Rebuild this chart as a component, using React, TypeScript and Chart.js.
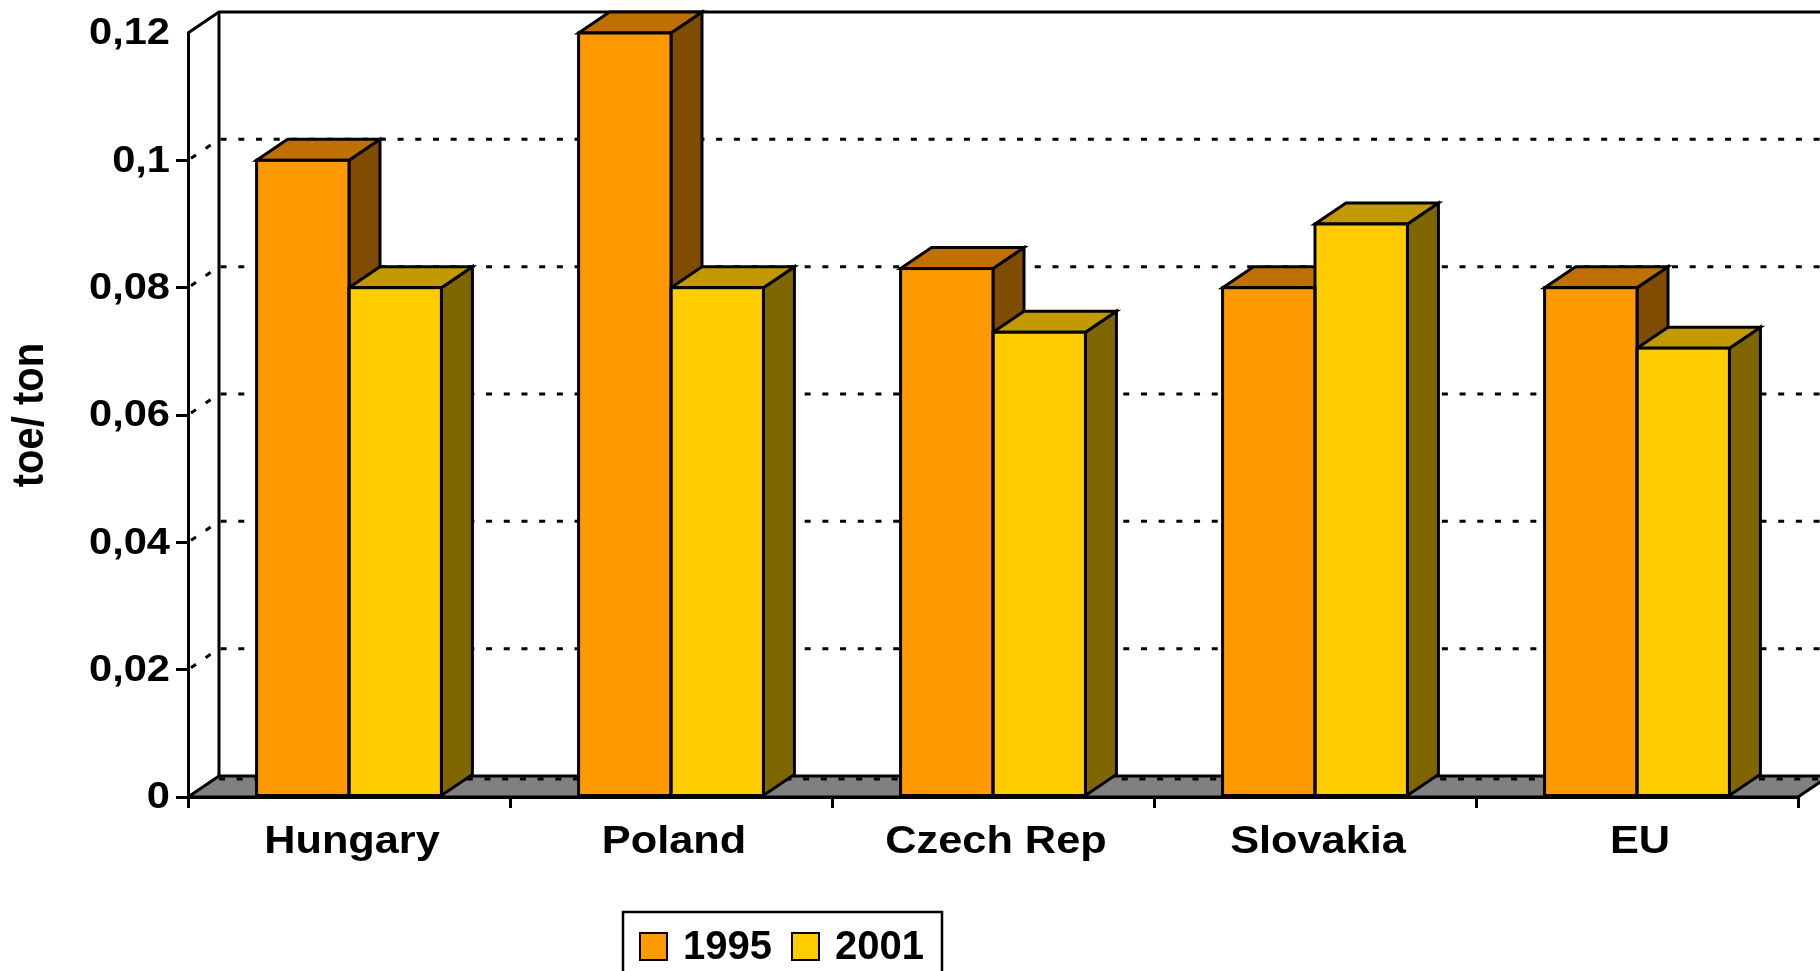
import React, { useEffect, useRef } from 'react';
import { Chart, registerables } from 'chart.js';
Chart.register(...registerables);

const categories = ['Hungary', 'Poland', 'Czech Rep', 'Slovakia', 'EU'];
const seriesNames = ['1995', '2001'];
const values1995 = [0.1, 0.12, 0.083, 0.08, 0.08];
const values2001 = [0.08, 0.08, 0.073, 0.09, 0.0705];
const yTickLabels = ['0', '0,02', '0,04', '0,06', '0,08', '0,1', '0,12'];
const yTitle = 'toe/ ton';

const frontColors = ['#FF9900', '#FFCC00'];
const topColors = ['#C07000', '#C29A00'];
const sideColors = ['#804C00', '#806600'];
const DX = 31;
const DY = 21;
const FONT = '"Liberation Sans", Arial, sans-serif';
const LW = 3;
const DASH = [6, 11.7];
const STRETCH = 1.11;

function stretchedText(ctx: any, text: string, x: number, y: number, align: string) {
  ctx.save();
  ctx.translate(x, y);
  ctx.scale(STRETCH, 1);
  ctx.textAlign = align;
  ctx.fillText(text, 0, 0);
  ctx.restore();
}

const threeD = {
  id: 'threeD',
  beforeDatasetsDraw(chart: any) {
    const { ctx, chartArea: ca, scales } = chart;
    const y = scales.y;
    const W = chart.width;
    ctx.save();
    ctx.strokeStyle = '#000';
    ctx.lineWidth = LW;
    ctx.setLineDash(DASH);
    y.ticks.forEach((t: any) => {
      if (t.value <= 0 || t.value >= 0.12 - 1e-9) return;
      const py = y.getPixelForValue(t.value);
      ctx.beginPath();
      ctx.moveTo(ca.left + 3, py - 2);
      ctx.lineTo(ca.left + DX, py - DY);
      ctx.lineTo(W + 5, py - DY);
      ctx.stroke();
    });
    ctx.setLineDash([]);
    ctx.beginPath();
    ctx.moveTo(ca.left, ca.top);
    ctx.lineTo(ca.left + DX, ca.top - DY);
    ctx.lineTo(W + 5, ca.top - DY);
    ctx.moveTo(ca.left + DX, ca.top - DY);
    ctx.lineTo(ca.left + DX, ca.bottom - DY);
    ctx.stroke();
    ctx.fillStyle = '#808080';
    ctx.beginPath();
    ctx.moveTo(ca.left, ca.bottom);
    ctx.lineTo(ca.right, ca.bottom);
    ctx.lineTo(ca.right + DX, ca.bottom - DY);
    ctx.lineTo(ca.left + DX, ca.bottom - DY);
    ctx.closePath();
    ctx.fill();
    ctx.stroke();
    ctx.setLineDash(DASH);
    ctx.beginPath();
    ctx.moveTo(ca.left + DX, ca.bottom - DY + 3);
    ctx.lineTo(ca.right + DX, ca.bottom - DY + 3);
    ctx.stroke();
    ctx.setLineDash([]);
    const n = chart.data.labels.length;
    for (let i = 0; i < n; i++) {
      chart.data.datasets.forEach((ds: any, d: number) => {
        const el = chart.getDatasetMeta(d).data[i];
        if (!el) return;
        const { x, y: top, base, width } = el.getProps(['x', 'y', 'base', 'width'], true);
        const L = x - width / 2;
        const R = x + width / 2;
        ctx.fillStyle = sideColors[d];
        ctx.beginPath();
        ctx.moveTo(R, top);
        ctx.lineTo(R + DX, top - DY);
        ctx.lineTo(R + DX, base - DY);
        ctx.lineTo(R, base);
        ctx.closePath();
        ctx.fill();
        ctx.stroke();
        ctx.fillStyle = topColors[d];
        ctx.beginPath();
        ctx.moveTo(L, top);
        ctx.lineTo(L + DX, top - DY);
        ctx.lineTo(R + DX, top - DY);
        ctx.lineTo(R, top);
        ctx.closePath();
        ctx.fill();
        ctx.stroke();
      });
    }
    ctx.restore();
  },
  afterDatasetsDraw(chart: any) {
    const { ctx } = chart;
    ctx.save();
    ctx.strokeStyle = '#000';
    ctx.lineWidth = LW;
    const n = chart.data.labels.length;
    for (let i = 0; i < n; i++) {
      chart.data.datasets.forEach((ds: any, d: number) => {
        const el = chart.getDatasetMeta(d).data[i];
        if (!el) return;
        const { x, y: top, base, width } = el.getProps(['x', 'y', 'base', 'width'], true);
        ctx.strokeRect(x - width / 2, top, width, base - top);
      });
    }
    ctx.restore();
  },
  afterDraw(chart: any) {
    const { ctx, scales, chartArea: ca } = chart;
    ctx.save();
    ctx.fillStyle = '#000';
    ctx.textBaseline = 'middle';
    // y title (rotated, thickened like the reference)
    ctx.save();
    ctx.font = `bold 40px ${FONT}`;
    ctx.translate(31, (ca.top + ca.bottom) / 2);
    ctx.rotate(-Math.PI / 2);
    ctx.scale(1, STRETCH);
    ctx.textAlign = 'center';
    ctx.fillText(scales.y.options.title.text, 0, 0);
    ctx.restore();
    // y tick labels
    ctx.font = `bold 37.5px ${FONT}`;
    scales.y.ticks.forEach((t: any, i: number) => {
      const py = scales.y.getPixelForTick(i);
      stretchedText(ctx, String(t.label), 170, py + 1, 'right');
    });
    // x category labels
    ctx.font = `bold 39px ${FONT}`;
    scales.x.ticks.forEach((t: any, i: number) => {
      const px = scales.x.getPixelForTick(i);
      stretchedText(ctx, String(t.label), px + 3, 842, 'center');
    });
    // legend
    const bx = 623, by = 912, bw = 319, bh = 70;
    ctx.fillStyle = '#fff';
    ctx.fillRect(bx, by, bw, bh);
    ctx.strokeStyle = '#000';
    ctx.lineWidth = 2.5;
    ctx.strokeRect(bx, by, bw, bh);
    ctx.font = `bold 40px ${FONT}`;
    ctx.textAlign = 'left';
    let cx = 640;
    const cy = 946.5;
    chart.data.datasets.forEach((ds: any, d: number) => {
      ctx.fillStyle = frontColors[d];
      ctx.fillRect(cx, cy - 13.5, 27, 27);
      ctx.lineWidth = 2;
      ctx.strokeRect(cx, cy - 13.5, 27, 27);
      ctx.fillStyle = '#000';
      ctx.fillText(ds.label, cx + 43, cy + 1);
      cx += 43 + ctx.measureText(ds.label).width + 20;
    });
    ctx.restore();
  },
};

export default function App() {
  const ref = useRef<HTMLCanvasElement>(null);
  useEffect(() => {
    const chart = new Chart(ref.current as HTMLCanvasElement, {
      type: 'bar',
      data: {
        labels: categories,
        datasets: [
          { label: seriesNames[0], data: values1995, backgroundColor: frontColors[0], borderWidth: 0, categoryPercentage: 0.574, barPercentage: 1 },
          { label: seriesNames[1], data: values2001, backgroundColor: frontColors[1], borderWidth: 0, categoryPercentage: 0.574, barPercentage: 1 },
        ],
      },
      options: {
        animation: false,
        responsive: true,
        maintainAspectRatio: false,
        layout: { padding: { top: 33, right: 22, bottom: 0, left: 0 } },
        plugins: { legend: { display: false }, tooltip: { enabled: false } },
        scales: {
          x: {
            grid: { display: true, drawOnChartArea: false, drawTicks: true, tickLength: 11, color: '#000', tickColor: '#000', tickWidth: LW, lineWidth: LW, offset: true },
            border: { display: true, color: '#000', width: LW },
            ticks: { color: 'rgba(0,0,0,0)', font: { family: FONT, size: 39, weight: 'bold' }, padding: 12, maxRotation: 0, autoSkip: false },
            afterFit: (s: any) => { s.height = 174; },
          },
          y: {
            min: 0,
            max: 0.12,
            ticks: {
              stepSize: 0.02,
              color: 'rgba(0,0,0,0)',
              font: { family: FONT, size: 37, weight: 'bold' },
              padding: 6,
              callback: (v: any) => yTickLabels[Math.round(Number(v) / 0.02)],
            },
            grid: {
              display: true, drawOnChartArea: false, drawTicks: true, tickLength: 12, color: '#000', lineWidth: LW, tickWidth: LW,
              tickColor: (c: any) => (c.tick && c.tick.value >= 0.12 - 1e-9 ? 'rgba(0,0,0,0)' : '#000'),
            },
            border: { display: true, color: '#000', width: LW },
            title: { display: true, text: yTitle, color: 'rgba(0,0,0,0)', font: { family: FONT, size: 40, weight: 'bold' }, padding: { top: 8, bottom: 0 } },
            afterFit: (s: any) => { s.width = 188; },
          },
        },
      },
      plugins: [threeD],
    } as any);
    return () => chart.destroy();
  }, []);
  return (
    <div style={{ position: 'fixed', left: 0, top: 0, width: 1820, height: 971, background: '#fff' }}>
      <canvas ref={ref} />
    </div>
  );
}
